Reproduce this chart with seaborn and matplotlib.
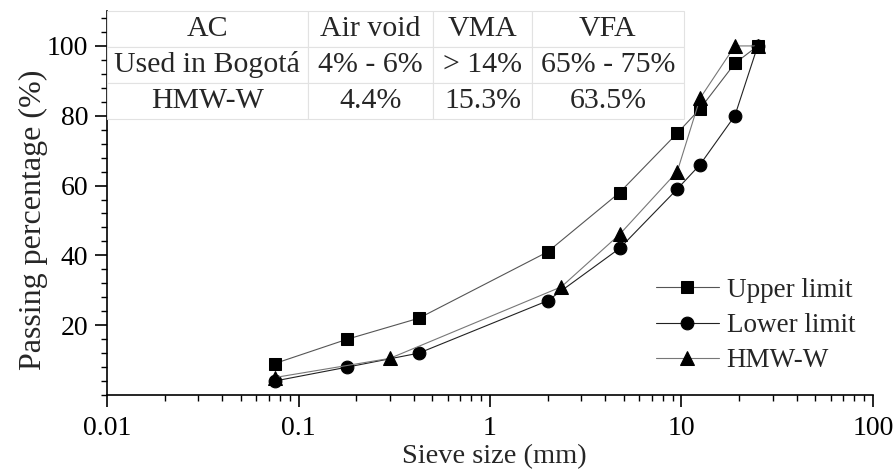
import numpy as np
import pandas as pd
import matplotlib
matplotlib.use("Agg")
import matplotlib.pyplot as plt
from matplotlib.ticker import MultipleLocator, LogLocator, NullFormatter, FixedLocator, FixedFormatter
import seaborn as sns

# Gradation data: sieve size (mm) vs passing percentage (%)
upper_sieve = [0.075, 0.18, 0.425, 2.0, 4.75, 9.5, 12.5, 19.0, 25.0]
upper_pass = [9, 16, 22, 41, 58, 75, 82, 95, 100]

lower_sieve = [0.075, 0.18, 0.425, 2.0, 4.75, 9.5, 12.5, 19.0, 25.0]
lower_pass = [4, 8, 12, 27, 42, 59, 66, 80, 100]

hmw_sieve = [0.075, 0.3, 2.36, 4.75, 9.5, 12.5, 19.0, 25.0]
hmw_pass = [5, 10.5, 31, 46, 64, 85, 100, 100]

series_names = ["Upper limit", "Lower limit", "HMW-W"]

# Volumetric properties table
table_header = ["AC", "Air void", "VMA", "VFA"]
table_rows = [
    ["Used in Bogotá", "4% - 6%", "> 14%", "65% - 75%"],
    ["HMW-W", "4.4%", "15.3%", "63.5%"],
]

x_ticks = [0.01, 0.1, 1, 10, 100]
x_tick_labels = ["0.01", "0.1", "1", "10", "100"]
y_ticks = [20, 40, 60, 80, 100]

sns.set_theme(style="ticks")
plt.rcParams["font.family"] = ["Liberation Serif", "DejaVu Serif"]

df = pd.concat([
    pd.DataFrame({"sieve": upper_sieve, "passing": upper_pass, "series": series_names[0]}),
    pd.DataFrame({"sieve": lower_sieve, "passing": lower_pass, "series": series_names[1]}),
    pd.DataFrame({"sieve": hmw_sieve, "passing": hmw_pass, "series": series_names[2]}),
], ignore_index=True)

fig = plt.figure(figsize=(8.95, 4.75), dpi=100)
ax = fig.add_axes([0.1196, 0.1684, 0.8558, 0.8084])

line_colors = {"Upper limit": "#555555", "Lower limit": "#222222", "HMW-W": "#777777"}
markers = {"Upper limit": "s", "Lower limit": "o", "HMW-W": "^"}
msizes = {"Upper limit": 8.6, "Lower limit": 9.2, "HMW-W": 10.0}

for name in series_names:
    sub = df[df["series"] == name]
    sns.lineplot(data=sub, x="sieve", y="passing", ax=ax, color=line_colors[name],
                 marker=markers[name], markersize=msizes[name],
                 markerfacecolor="black", markeredgecolor="black",
                 linewidth=0.8, label=name, estimator=None, sort=False)

ax.set_xscale("log")
ax.set_xlim(0.01, 100)
ax.set_ylim(0, 110)

ax.xaxis.set_major_locator(FixedLocator(x_ticks))
ax.xaxis.set_major_formatter(FixedFormatter(x_tick_labels))
ax.xaxis.set_minor_locator(LogLocator(base=10, subs=np.arange(2, 10)))
ax.xaxis.set_minor_formatter(NullFormatter())
ax.yaxis.set_major_locator(FixedLocator(y_ticks))
ax.yaxis.set_minor_locator(MultipleLocator(4))

for s in ["top", "right"]:
    ax.spines[s].set_visible(False)
for s in ["left", "bottom"]:
    ax.spines[s].set_linewidth(1.2)
    ax.spines[s].set_color("black")

ax.tick_params(which="major", direction="out", length=8.5, width=1.2, labelsize=20,
               color="black", labelcolor="black")
ax.tick_params(axis="x", which="major", pad=6.5)
ax.tick_params(axis="y", which="major", pad=5)
ax.tick_params(which="minor", direction="out", length=4.5, width=1.0, color="black")

ax.set_xlabel("Sieve size (mm)", fontsize=20.5)
ax.xaxis.set_label_coords(0.506, -0.127)
ax.set_ylabel("Passing percentage (%)", fontsize=23)
ax.yaxis.set_label_coords(-0.077, 0.456)

leg = ax.legend(loc="lower right", bbox_to_anchor=(0.991, 0.028), frameon=False,
                fontsize=19.5, handlelength=2.3, handletextpad=0.3, labelspacing=0.38,
                borderaxespad=0)

# Properties table in the upper-left corner of the plot
cols = np.array([201, 126, 99, 152], dtype=float)
tbl_w = 0.753
col_w = list(cols / cols.sum() * tbl_w)
tbl = ax.table(cellText=[table_header] + table_rows, cellLoc="center",
               colWidths=col_w, bbox=[0.0, 0.719, tbl_w, 0.281], zorder=5)
tbl.auto_set_font_size(False)
tbl.set_fontsize(21.5)
for (r, c), cell in tbl.get_celld().items():
    cell.set_edgecolor("#e2e2e2")
    cell.set_linewidth(0.8)
    cell.set_facecolor("white")
    cell.PAD = 0.02

fig.savefig("out.png", dpi=100)
